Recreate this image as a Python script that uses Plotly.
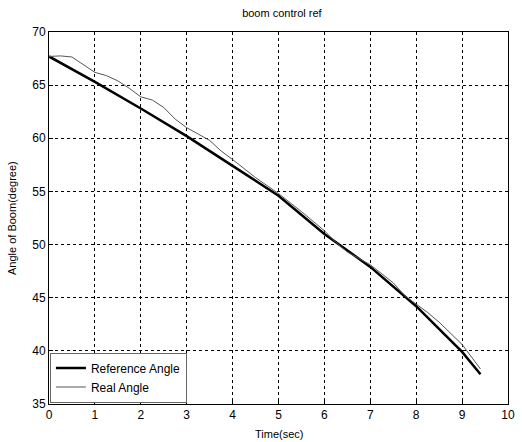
import plotly.graph_objects as go

ref_t = [0, 1, 2, 3, 4, 5, 6, 7, 8, 9, 9.4]
ref_angle = [67.7, 65.3, 62.8, 60.2, 57.4, 54.6, 51.0, 47.9, 44.2, 39.9, 37.8]

real_t = [0, 0.25, 0.5, 0.75, 1, 1.25, 1.5, 1.75, 2, 2.25, 2.5, 2.75, 3, 3.25, 3.5,
          3.75, 4, 4.5, 5, 5.5, 6, 6.25, 6.5, 7, 7.5, 7.75, 8, 8.25, 8.5, 9, 9.4]
real_angle = [67.7, 67.75, 67.65, 66.9, 66.2, 65.9, 65.4, 64.7, 63.9, 63.6, 62.9, 61.8,
              61.0, 60.4, 59.8, 58.8, 58.0, 56.3, 54.8, 53.1, 51.3, 50.2, 49.3, 48.1,
              46.4, 45.2, 44.4, 43.6, 42.7, 40.6, 38.3]

x_ticks = [0, 1, 2, 3, 4, 5, 6, 7, 8, 9, 10]
y_ticks = [35, 40, 45, 50, 55, 60, 65, 70]

fig = go.Figure()
fig.add_trace(go.Scatter(x=ref_t, y=ref_angle, mode="lines", name="Reference Angle",
                         line=dict(color="black", width=2.5)))
fig.add_trace(go.Scatter(x=real_t, y=real_angle, mode="lines", name="Real Angle",
                         line=dict(color="#555555", width=1)))

axis_common = dict(showline=True, linecolor="black", linewidth=1, mirror=True,
                   showgrid=True, gridcolor="black", griddash="dot", gridwidth=1,
                   ticks="inside", ticklen=4, tickcolor="black", zeroline=False,
                   tickfont=dict(size=12, color="black"))

fig.update_layout(
    width=522, height=442,
    margin=dict(l=49, r=7, t=32, b=38),
    paper_bgcolor="white", plot_bgcolor="white",
    font=dict(family="Liberation Sans, Arial, sans-serif", color="black", size=11),
    title=dict(text="boom control ref", x=0.54, xanchor="center", y=0.978, yanchor="top",
               font=dict(size=11)),
    xaxis=dict(range=[0, 10], tickvals=x_ticks, **axis_common),
    yaxis=dict(range=[35, 70], tickvals=y_ticks, **axis_common),
    legend=dict(x=0.002, y=0.004, xanchor="left", yanchor="bottom",
                bgcolor="white", bordercolor="#666666", borderwidth=1,
                font=dict(size=12), tracegroupgap=0, itemwidth=30),
    showlegend=True,
    annotations=[
        dict(text="Time(sec)", xref="paper", yref="paper", x=0.5, y=0,
             xanchor="center", yanchor="top", yshift=-22, showarrow=False,
             font=dict(size=11)),
        dict(text="Angle of Boom(degree)", xref="paper", yref="paper", x=0, y=0.5,
             xanchor="center", yanchor="middle", xshift=-37, textangle=-90,
             showarrow=False, font=dict(size=11)),
    ],
)

fig.write_html("out.html", config={"displayModeBar": False},
               post_script="document.body.style.margin='0';")
